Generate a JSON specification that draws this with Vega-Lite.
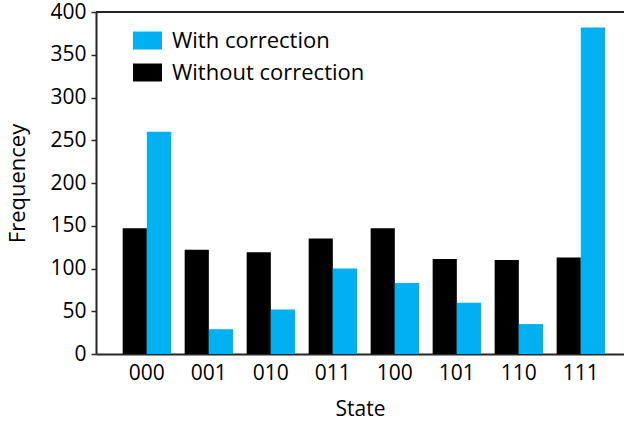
{
  "$schema": "https://vega.github.io/schema/vega-lite/v6.json",
  "width": 528,
  "height": 342,
  "autosize": "none",
  "padding": {"left": 96, "top": 12, "right": 0, "bottom": 73},
  "config": {
    "view": {"stroke": null},
    "font": "Open Sans"
  },
  "data": {
    "values": [
      {"State": "000", "Series": "Without correction", "Frequency": 147},
      {"State": "000", "Series": "With correction", "Frequency": 260},
      {"State": "001", "Series": "Without correction", "Frequency": 122},
      {"State": "001", "Series": "With correction", "Frequency": 29},
      {"State": "010", "Series": "Without correction", "Frequency": 119},
      {"State": "010", "Series": "With correction", "Frequency": 52},
      {"State": "011", "Series": "Without correction", "Frequency": 135},
      {"State": "011", "Series": "With correction", "Frequency": 100},
      {"State": "100", "Series": "Without correction", "Frequency": 147},
      {"State": "100", "Series": "With correction", "Frequency": 83},
      {"State": "101", "Series": "Without correction", "Frequency": 111},
      {"State": "101", "Series": "With correction", "Frequency": 60},
      {"State": "110", "Series": "Without correction", "Frequency": 110},
      {"State": "110", "Series": "With correction", "Frequency": 35},
      {"State": "111", "Series": "Without correction", "Frequency": 113},
      {"State": "111", "Series": "With correction", "Frequency": 382}
    ]
  },
  "layer": [
    {
      "mark": {"type": "bar"},
      "encoding": {
        "x": {
          "field": "State",
          "type": "nominal",
          "scale": {"paddingInner": 0.22, "paddingOuter": 0.3685, "align": 0.584},
          "axis": {
            "title": "State",
            "titleFontSize": 21,
            "titleFontWeight": "normal",
            "titleColor": "#000000",
            "titlePadding": 15,
            "labelAngle": 0,
            "labelFontSize": 21,
            "labelColor": "#000000",
            "labelPadding": 8,
            "ticks": false,
            "domainColor": "#262626",
            "domainWidth": 2
          }
        },
        "xOffset": {
          "field": "Series",
          "type": "nominal",
          "sort": ["Without correction", "With correction"],
          "scale": {"paddingInner": 0, "paddingOuter": 0}
        },
        "y": {
          "field": "Frequency",
          "type": "quantitative",
          "scale": {"domain": [0, 400]},
          "axis": {
            "title": "Frequencey",
            "titleFontSize": 22,
            "titleFontWeight": "normal",
            "titleColor": "#000000",
            "titlePadding": 20,
            "labelFontSize": 21,
            "labelColor": "#000000",
            "labelPadding": 5,
            "values": [0, 50, 100, 150, 200, 250, 300, 350, 400],
            "grid": false,
            "tickSize": 5,
            "tickColor": "#262626",
            "tickWidth": 1.5,
            "domainColor": "#262626",
            "domainWidth": 2
          }
        },
        "color": {
          "field": "Series",
          "type": "nominal",
          "scale": {
            "domain": ["With correction", "Without correction"],
            "range": ["#00B0F0", "#000000"]
          },
          "legend": {
            "title": null,
            "orient": "none",
            "legendX": 37,
            "legendY": 14,
            "padding": 0,
            "labelFontSize": 22,
            "labelLimit": 0,
            "labelColor": "#000000",
            "labelOffset": 10,
            "rowPadding": 6,
            "symbolType": "M-1,-0.62H1V0.62H-1Z",
            "symbolSize": 841,
            "symbolStrokeWidth": 0,
            "symbolOpacity": 1
          }
        }
      }
    },
    {
      "mark": {"type": "rule", "color": "#262626", "strokeWidth": 2},
      "encoding": {"y": {"datum": 400}}
    }
  ]
}
